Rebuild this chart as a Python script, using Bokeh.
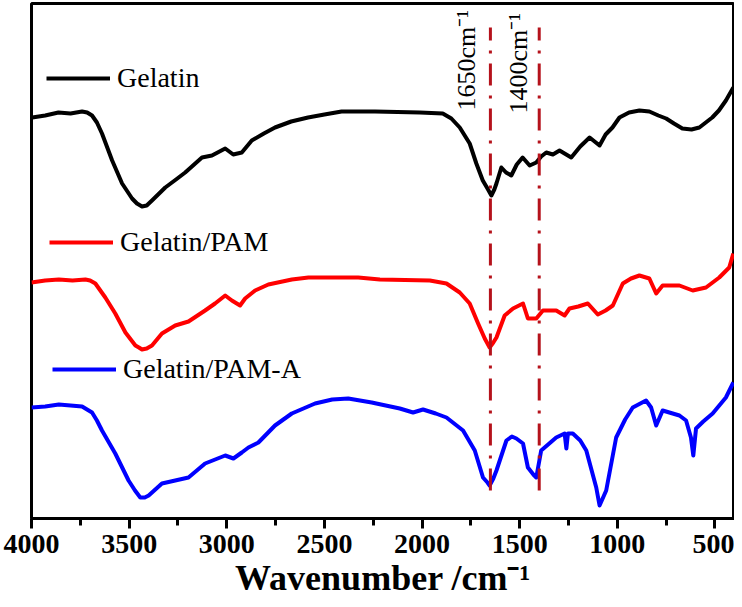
from bokeh.plotting import figure
from bokeh.models import Range1d, Legend, LegendItem, Label, FixedTicker
from bokeh.embed import file_html
from bokeh.resources import INLINE

# ---- data (wavenumber in cm^-1, transmittance offset in a.u.) ----
gel_wn = [3996, 3930, 3862, 3800, 3741, 3715, 3690, 3665, 3639, 3587, 3536, 3485, 3460, 3434,
          3410, 3383, 3315, 3260, 3213, 3127, 3076, 3008, 2967, 2923, 2872, 2810, 2753, 2670,
          2584, 2500, 2412, 2241, 2011, 1894, 1850, 1807, 1756, 1722, 1689, 1665, 1645, 1630,
          1619, 1594, 1570, 1543, 1515, 1485, 1449, 1415, 1390, 1364, 1330, 1296, 1236, 1190,
          1142, 1091, 1060, 1025, 989, 940, 887, 836, 790, 750, 710, 667, 620, 580, 514, 480,
          444, 406]
gel_t = [405, 407, 410, 409, 411, 410, 407, 400, 389, 362, 339, 324, 319, 316,
         317, 322, 335, 343, 350, 365, 367, 374, 368, 370, 382, 389, 395, 401,
         405, 408, 411, 411, 410, 409, 404, 395, 379, 359, 342, 334, 327, 333,
         339, 355, 350, 347, 358, 365, 357, 360, 366, 370, 368, 372, 365, 376,
         385, 377, 388, 395, 405, 410, 412, 411, 407, 404, 399, 394, 393, 395, 405, 412,
         422, 435]

pam_wn = [4000, 3930, 3860, 3790, 3724, 3700, 3673, 3622, 3571, 3519, 3468, 3450, 3434, 3410,
          3383, 3332, 3264, 3196, 3111, 3060, 3008, 2974, 2932, 2906, 2855, 2787, 2667, 2582,
          2327, 2216, 1960, 1875, 1807, 1756, 1713, 1679, 1665, 1654, 1635, 1619, 1577, 1534,
          1483, 1458, 1415, 1381, 1313, 1270, 1245, 1200, 1151, 1100, 1060, 1023, 972, 930,
          887, 836, 801, 768, 682, 614, 546, 478, 427, 406]
pam_t = [240, 242, 243, 242, 243, 242, 239, 225, 209, 190, 177, 175, 173, 174,
         177, 189, 197, 201, 212, 219, 227, 222, 217, 224, 232, 238, 243, 245,
         245, 243, 242, 239, 230, 219, 199, 184, 179, 175, 180, 185, 207, 214,
         219, 204, 204, 212, 212, 207, 214, 216, 219, 208, 212, 217, 239, 244,
         247, 244, 229, 237, 237, 232, 235, 245, 255, 269]

pama_wn = [4000, 3930, 3860, 3800, 3741, 3690, 3665, 3639, 3571, 3503, 3470, 3443, 3420, 3400,
           3332, 3264, 3196, 3111, 3008, 2966, 2923, 2889, 2838, 2753, 2667, 2548, 2460, 2378,
           2258, 2114, 2046, 1995, 1930, 1875, 1790, 1730, 1688, 1665, 1654, 1635, 1619, 1568,
           1540, 1517, 1483, 1458, 1430, 1415, 1390, 1313, 1270, 1261, 1253, 1228, 1190, 1159,
           1108, 1091, 1057, 1006, 960, 921, 853, 827, 801, 768, 682, 648, 623, 611,
           597, 560, 512, 444, 406]
pama_t = [115, 116, 118, 117, 116, 110, 102, 92, 69, 42, 32, 25, 25, 27,
          39, 42, 45, 59, 67, 64, 70, 75, 80, 97, 109, 119, 123, 124,
          120, 114, 110, 113, 109, 105, 92, 72, 45, 40, 37, 44, 52, 82,
          86, 84, 79, 55, 48, 45, 72, 85, 89, 74, 89, 89, 82, 72,
          35, 17, 32, 85, 103, 115, 122, 115, 97, 112, 107, 102, 85, 67,
          94, 101, 109, 125, 140]

series_names = ["Gelatin", "Gelatin/PAM", "Gelatin/PAM-A"]
series_colors = ["#000000", "#ff0000", "#0000ff"]

mark_wn = [1650, 1400]
mark_labels = ["1650cm\u207b\u00b9", "1400cm\u207b\u00b9"]
mark_label_x = [1772, 1508]
mark_label_y = [412, 409]
mark_y0 = 32
mark_y1 = 495

major_ticks = [4000, 3500, 3000, 2500, 2000, 1500, 1000, 500]
minor_ticks = [3750, 3250, 2750, 2250, 1750, 1250, 750]

SERIF = "Liberation Serif"

p = figure(frame_width=703, frame_height=515,
           x_range=Range1d(4000, 400), y_range=Range1d(4, 519),
           output_backend="svg", toolbar_location=None,
           y_axis_location=None,
           min_border_left=31, min_border_right=0, min_border_top=3, min_border_bottom=80)

p.xgrid.visible = False
p.ygrid.visible = False
p.outline_line_color = "black"
p.outline_line_width = 3

ax = p.xaxis[0]
ax.ticker = FixedTicker(ticks=major_ticks, minor_ticks=minor_ticks)
ax.axis_line_width = 3
ax.major_tick_line_width = 3
ax.minor_tick_line_width = 3
ax.major_tick_in = 0
ax.major_tick_out = 10
ax.minor_tick_in = 0
ax.minor_tick_out = 7
ax.major_label_standoff = 6
ax.major_label_text_font = SERIF
ax.major_label_text_font_style = "bold"
ax.major_label_text_font_size = "28px"
ax.major_label_text_color = "black"
ax.axis_label = "Wavenumber /cm\u207b\u00b9"
ax.axis_label_text_font = SERIF
ax.axis_label_text_font_style = "bold"
ax.axis_label_text_font_size = "36px"
ax.axis_label_text_color = "black"
ax.axis_label_standoff = 2

renderers = []
for wn, t, c in zip([gel_wn, pam_wn, pama_wn], [gel_t, pam_t, pama_t], series_colors):
    r = p.line(wn, t, line_color=c, line_width=4, line_join="round")
    renderers.append(r)

# dash-dot marker lines
p.segment(x0=mark_wn, y0=[mark_y0] * len(mark_wn), x1=mark_wn, y1=[mark_y1] * len(mark_wn),
          line_color="#b5121b", line_width=3, line_dash="22 10 3 10")

for lx, ly, txt in zip(mark_label_x, mark_label_y, mark_labels):
    p.add_layout(Label(x=lx, y=ly, text=txt, angle=90, angle_units="deg",
                       text_font=SERIF, text_font_size="26px", text_color="black",
                       text_align="left", text_baseline="alphabetic"))

# per-series legends placed next to each curve
legend_locs = [(15, 424), (18, 260), (21, 133)]
for r, name, loc in zip(renderers, series_names, legend_locs):
    lg = Legend(items=[LegendItem(label=name, renderers=[r])], location=loc,
                glyph_width=64, glyph_height=30, label_height=30, label_standoff=7,
                label_text_font=SERIF, label_text_font_size="28px",
                label_text_color="black", label_text_baseline="middle",
                padding=0, margin=0, spacing=0,
                border_line_alpha=0, background_fill_alpha=0)
    p.add_layout(lg)

open("out.html", "w").write(file_html(p, INLINE))
